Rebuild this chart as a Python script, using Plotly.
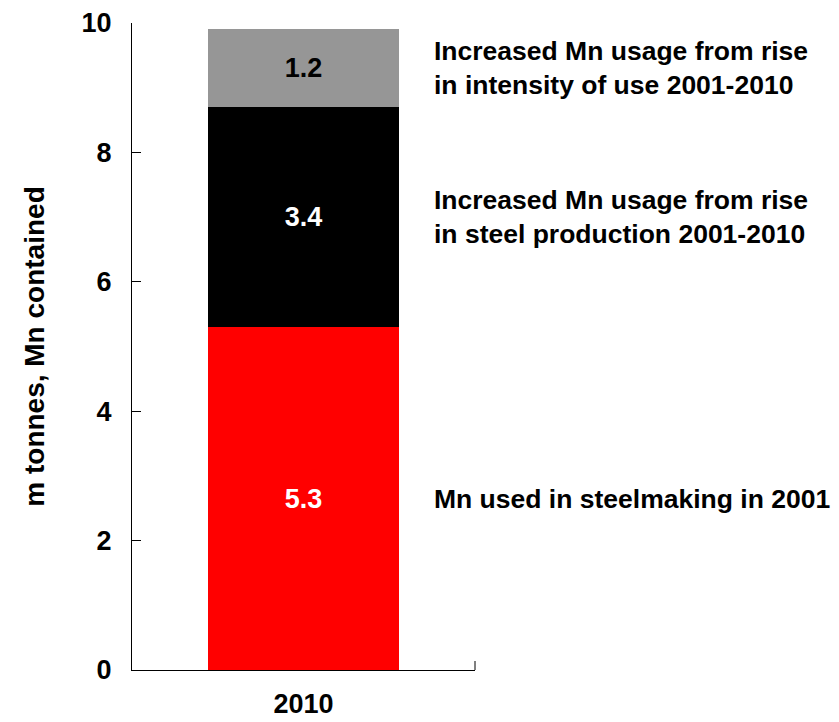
import plotly.graph_objects as go

categories = ["2010"]
segment_names = [
    "Mn used in steelmaking in 2001",
    "Increased Mn usage from rise<br>in steel production 2001-2010",
    "Increased Mn usage from rise<br>in intensity of use 2001-2010",
]
segment_values = [5.3, 3.4, 1.2]
segment_colors = ["#FF0000", "#000000", "#969696"]
label_colors = ["#FFFFFF", "#FFFFFF", "#000000"]
y_ticks = [0, 2, 4, 6, 8, 10]

FONT = "Liberation Sans, Arial, Helvetica, sans-serif"
FS_ANN = 26.5
FS_TICK = 27
FS_TITLE = 28
FS_BAR = 27

fig = go.Figure()
for name, val, col, lc in zip(segment_names, segment_values, segment_colors, label_colors):
    fig.add_trace(go.Bar(
        x=categories, y=[val], name=name,
        marker=dict(color=col, line=dict(width=0)),
        text=[f"{val:.1f}"], textposition="inside", insidetextanchor="middle",
        textfont=dict(color=lc, size=FS_BAR, family=FONT, weight="bold"),
        width=0.557, showlegend=False,
    ))

# side labels at segment centres
cum = 0
for name, val in zip(segment_names, segment_values):
    fig.add_annotation(
        x=0.874, xref="paper", xanchor="left",
        y=cum + val / 2, yref="y", yanchor="middle",
        text=name, showarrow=False, align="left",
        font=dict(size=FS_ANN, family=FONT, color="#000000", weight="bold"),
    )
    cum += val

# small boundary tick at right end of the category axis
fig.add_shape(type="line", xref="paper", yref="paper",
              x0=1, x1=1, y0=0, y1=9 / 648,
              line=dict(color="#000000", width=1))

fig.update_layout(
    barmode="stack",
    width=839, height=722,
    margin=dict(l=132, r=364, t=23, b=52),
    paper_bgcolor="white", plot_bgcolor="white",
    font=dict(family=FONT, size=FS_TICK, color="#000000", weight="bold"),
    xaxis=dict(
        type="category", range=[-0.5, 0.5], automargin=False,
        showline=True, linecolor="#000000", linewidth=1,
        ticks="", showgrid=False, zeroline=False,
        tickfont=dict(size=FS_TICK, family=FONT, weight="bold"),
        ticklabelstandoff=10,
    ),
    yaxis=dict(
        range=[0, 10], tickvals=y_ticks, automargin=False,
        showline=True, linecolor="#000000", linewidth=1,
        ticks="inside", ticklen=9, tickcolor="#000000",
        showgrid=False, zeroline=False,
        tickfont=dict(size=FS_TICK, family=FONT, weight="bold"),
        ticklabelstandoff=14,
        title=dict(text="m tonnes, Mn contained", standoff=28,
                   font=dict(size=FS_TITLE, family=FONT, weight="bold")),
    ),
)

fig.write_html("out.html")
